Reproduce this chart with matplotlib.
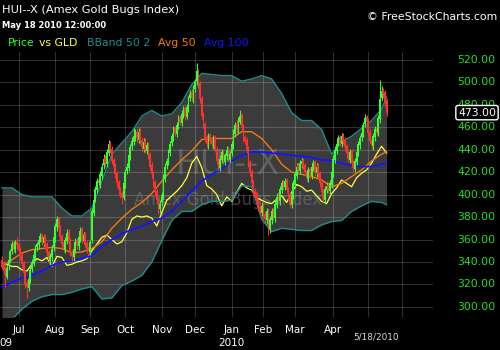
import matplotlib
matplotlib.use("Agg")
import matplotlib.pyplot as plt
from matplotlib import transforms

# Daily candles, mid-June 2009 .. May 18 2010 (trading-day index)
opens = [
    342, 339, 333, 327, 336, 343, 350, 357, 351, 358,
    356, 351, 346, 339, 331, 321, 317, 324, 334, 339,
    345, 353, 355, 361, 364, 357, 363, 356, 349, 341,
    344, 353, 361, 371, 379, 371, 363, 357, 351, 359,
    367, 359, 349, 344, 351, 359, 354, 361, 369, 359,
    365, 357, 353, 349, 360, 384, 396, 404, 413, 409,
    417, 426, 433, 427, 437, 446, 441, 431, 426, 419,
    411, 405, 401, 397, 409, 421, 424, 434, 443, 447,
    451, 456, 449, 457, 449, 441, 448, 439, 445, 436,
    426, 419, 411, 403, 396, 387, 393, 399, 414, 426,
    429, 437, 446, 451, 459, 454, 461, 469, 464, 471,
    477, 469, 477, 486, 491, 485, 494, 501, 511, 499,
    486, 471, 463, 451, 444, 453, 449, 444, 451, 441,
    431, 424, 431, 439, 429, 434, 441, 431, 437, 444,
    454, 463, 457, 465, 471, 461, 451, 449, 441, 429,
    421, 411, 403, 401, 393, 389, 384, 391, 383, 377,
    386, 369, 377, 386, 379, 391, 399, 394, 404, 411,
    407, 413, 405, 399, 391, 399, 409, 417, 426, 421,
    427, 431, 426, 421, 414, 423, 417, 424, 429, 419,
    426, 419, 411, 403, 395, 404, 409, 403, 409, 419,
    431, 439, 446, 451, 445, 453, 449, 443, 437, 431,
    439, 429, 423, 429, 437, 444, 451, 454, 463, 469,
    466, 456, 449, 443, 451, 459, 455, 467, 486, 493,
    491, 483,
]
highs = [
    345, 341, 336, 338, 345, 352, 359, 360, 360, 362,
    358, 353, 348, 341, 333, 324, 327, 336, 343, 348,
    355, 358, 363, 366, 366, 364, 365, 358, 351, 348,
    355, 365, 375, 381, 380, 373, 365, 359, 362, 369,
    369, 361, 351, 355, 361, 361, 365, 371, 371, 367,
    367, 359, 355, 360, 388, 398, 408, 415, 416, 421,
    428, 436, 435, 441, 449, 448, 443, 433, 428, 421,
    413, 407, 403, 413, 423, 428, 438, 445, 451, 459,
    458, 458, 459, 459, 451, 450, 450, 447, 447, 438,
    429, 421, 413, 405, 398, 395, 402, 418, 428, 433,
    441, 448, 455, 461, 461, 465, 471, 471, 475, 479,
    479, 481, 488, 493, 494, 498, 503, 517, 512, 501,
    488, 474, 465, 453, 455, 455, 451, 453, 453, 443,
    433, 435, 441, 441, 437, 443, 443, 439, 448, 458,
    465, 466, 469, 475, 473, 463, 453, 451, 443, 431,
    423, 413, 406, 403, 395, 391, 393, 393, 385, 388,
    388, 381, 388, 388, 395, 401, 401, 408, 413, 413,
    415, 415, 407, 401, 403, 413, 421, 428, 428, 431,
    433, 433, 428, 423, 425, 425, 428, 431, 431, 428,
    428, 421, 413, 405, 408, 411, 411, 413, 423, 435,
    443, 448, 453, 453, 455, 455, 451, 445, 439, 441,
    441, 431, 433, 441, 448, 453, 458, 465, 472, 471,
    468, 458, 451, 455, 461, 461, 471, 502, 497, 495,
    493, 486,
]
lows = [
    334, 329, 318, 325, 333, 340, 347, 349, 348, 352,
    347, 342, 335, 327, 317, 308, 314, 321, 331, 336,
    342, 350, 352, 358, 355, 354, 352, 345, 339, 338,
    341, 350, 358, 368, 367, 359, 353, 349, 348, 356,
    355, 345, 341, 341, 348, 352, 351, 358, 357, 356,
    353, 348, 346, 346, 357, 381, 393, 401, 406, 406,
    414, 423, 425, 425, 434, 437, 427, 422, 415, 407,
    401, 397, 392, 395, 406, 418, 421, 431, 440, 444,
    448, 447, 446, 445, 439, 438, 437, 436, 432, 422,
    415, 407, 399, 392, 383, 384, 390, 396, 411, 423,
    426, 434, 443, 448, 452, 451, 458, 462, 461, 468,
    466, 467, 474, 483, 483, 482, 491, 498, 495, 482,
    467, 459, 447, 442, 441, 445, 442, 441, 438, 427,
    422, 421, 428, 427, 426, 431, 429, 428, 434, 441,
    451, 455, 455, 463, 457, 447, 445, 437, 425, 417,
    407, 399, 397, 389, 385, 382, 381, 379, 375, 374,
    364, 366, 374, 377, 376, 388, 392, 391, 401, 405,
    404, 401, 395, 389, 388, 396, 406, 414, 419, 418,
    424, 422, 417, 412, 411, 415, 414, 421, 417, 416,
    415, 407, 399, 393, 392, 401, 401, 400, 406, 416,
    428, 436, 443, 443, 442, 445, 439, 433, 429, 428,
    425, 421, 420, 426, 434, 441, 448, 451, 460, 462,
    452, 445, 441, 440, 448, 453, 452, 464, 483, 486,
    479, 470,
]
closes = [
    338, 332, 328, 335, 342, 350, 356, 352, 358, 355,
    350, 345, 338, 330, 320, 318, 325, 333, 340, 346,
    352, 356, 360, 363, 358, 362, 355, 348, 342, 345,
    352, 362, 372, 378, 370, 362, 356, 352, 360, 366,
    358, 348, 345, 352, 358, 355, 362, 368, 360, 364,
    356, 352, 350, 358, 385, 395, 405, 412, 410, 418,
    425, 432, 428, 438, 445, 440, 430, 425, 418, 410,
    404, 400, 398, 410, 420, 425, 435, 442, 448, 452,
    455, 450, 456, 448, 442, 447, 440, 444, 435, 425,
    418, 410, 402, 395, 388, 392, 400, 415, 425, 430,
    438, 445, 452, 458, 455, 462, 468, 465, 472, 476,
    470, 478, 485, 490, 486, 495, 500, 510, 498, 485,
    470, 462, 450, 445, 452, 448, 445, 450, 440, 430,
    425, 432, 438, 430, 435, 440, 432, 436, 445, 455,
    462, 458, 466, 470, 460, 450, 448, 440, 428, 420,
    410, 402, 400, 392, 388, 385, 390, 382, 378, 385,
    370, 378, 385, 380, 392, 398, 395, 405, 410, 408,
    412, 404, 398, 392, 400, 410, 418, 425, 422, 428,
    430, 425, 420, 415, 422, 418, 425, 428, 420, 425,
    418, 410, 402, 396, 405, 408, 404, 410, 420, 432,
    440, 445, 450, 446, 452, 448, 442, 436, 432, 438,
    428, 424, 430, 438, 445, 450, 455, 462, 468, 465,
    455, 448, 444, 452, 458, 456, 468, 485, 492, 490,
    482, 473,
]

# Indicator lines every 6 trading days
line_idx = list(range(0, 229, 6)) + [231]
bband_upper = [406, 406, 400, 398, 398, 398, 388, 381, 381, 388,
               412, 436, 446, 456, 470, 475, 470, 472, 482, 498,
               508, 507, 506, 506, 501, 503, 506, 503, 490, 473,
               466, 466, 458, 436, 447, 452, 459, 466, 476, 487]
bband_lower = [285, 289, 298, 305, 309, 311, 311, 313, 316, 318,
               307, 308, 319, 323, 328, 340, 359, 377, 385, 385,
               391, 394, 394, 395, 408, 407, 378, 367, 370, 369,
               368, 368, 373, 376, 377, 385, 390, 394, 393, 391]
avg50 = [336, 342, 348, 351, 352, 353, 352, 348, 349, 352,
         358, 370, 379, 387, 393, 401, 412, 422, 431, 439,
         449, 450, 450, 450, 456, 456, 450, 440, 427, 420,
         418, 416, 413, 407, 410, 416, 422, 430, 436, 438]
avg100 = [318, 322, 326, 328, 332, 337, 340, 341, 343, 346,
          354, 360, 365, 369, 372, 376, 379, 385, 394, 403,
          412, 418, 423, 430, 435, 438, 438, 437, 436, 435,
          434, 433, 431, 430, 428, 426, 425, 425, 427, 428]

# Price vs GLD comparison line, every 3 trading days
gld_idx = list(range(0, 229, 3)) + [231]
price_vs_gld = [337, 338, 336, 336, 333, 332, 338, 343, 341, 344,
                336, 345, 344, 337, 338, 340, 341, 343, 350, 356,
                362, 364, 360, 356, 358, 366, 378, 381, 380, 381,
                379, 372, 384, 395, 399, 403, 408, 415, 428, 434,
                424, 408, 405, 400, 390, 398, 394, 402, 410, 406,
                404, 397, 395, 393, 392, 396, 399, 393, 402, 409,
                407, 403, 404, 399, 394, 392, 401, 406, 413, 410,
                407, 415, 419, 422, 428, 436, 443, 437]

month_pos = [10, 32, 53, 74, 96, 116, 138, 157, 176, 199, 220, 240]
month_labels = ["Jul", "Aug", "Sep", "Oct", "Nov", "Dec", "Jan", "Feb", "Mar", "Apr"]
price_ticks = [300, 320, 340, 360, 380, 400, 420, 440, 460, 480, 500, 520]
last_price = 473.00

GREEN = "#33ff33"
RED = "#ff3030"
TEAL = "#1f8c8c"
ORANGE = "#f07a10"
BLUE = "#1414ff"
YELLOW = "#ffff40"

fig = plt.figure(figsize=(5, 3.5), dpi=100, facecolor="black")
ax = fig.add_axes([0, 1 - 317 / 350, 433 / 500, (317 - 52) / 350])
ax.set_facecolor("black")
ax.set_xlim(-1.2, 258.9)
ax.set_ylim(291, 527)
for s in ax.spines.values():
    s.set_visible(False)
ax.set_xticks([])
ax.set_yticks([])

# Bollinger band area
ax.fill_between(line_idx, bband_lower, bband_upper, color="#3b3b3b", lw=0, zorder=1)

# grid
for p in price_ticks:
    ax.axhline(p, color="white", alpha=0.18, lw=0.8, zorder=1.5)
for m in month_pos:
    ax.axvline(m, color="white", alpha=0.18, lw=0.8, zorder=1.5)

# watermark
ax.text(0.527, 0.574, "HUI--X", transform=ax.transAxes, color="#8a8a8a", alpha=0.45,
        fontsize=24, ha="center", va="center", zorder=1.6)
ax.text(0.527, 0.44, "Amex Gold Bugs Index", transform=ax.transAxes, color="#8a8a8a",
        alpha=0.45, fontsize=12, ha="center", va="center", zorder=1.6)

# indicator lines
ax.plot(gld_idx, price_vs_gld, color=YELLOW, lw=0.9, zorder=2)
ax.plot(line_idx, avg50, color=ORANGE, lw=1.0, zorder=2)
ax.plot(line_idx, avg100, color=BLUE, lw=1.3, zorder=2)
ax.plot(line_idx, bband_upper, color=TEAL, lw=1.0, zorder=2.5)
ax.plot(line_idx, bband_lower, color=TEAL, lw=1.0, zorder=2.5)

# candles
idx = list(range(len(closes)))
colors = [GREEN if c >= o else RED for o, c in zip(opens, closes)]
ax.vlines(idx, lows, highs, colors=colors, lw=0.8, zorder=3)
bodies = [max(abs(c - o), 0.8) for o, c in zip(opens, closes)]
bottoms = [min(o, c) for o, c in zip(opens, closes)]
ax.bar(idx, bodies, bottom=bottoms, width=1.0, color=colors, lw=0, zorder=3)

# right price axis
ty = transforms.blended_transform_factory(fig.transFigure, ax.transData)
for p in price_ticks:
    ax.text(457 / 500, p, f"{p:.2f}", transform=ty, color="#22e022",
            fontsize=7.8, ha="left", va="center", clip_on=False)
ax.text(458 / 500, last_price, f"{last_price:.2f}", transform=ty, color="white",
        fontsize=7.8, ha="left", va="center", clip_on=False, zorder=5,
        bbox=dict(boxstyle="round,pad=0.2", fc="black", ec="white", lw=1))

# bottom date axis
tx = transforms.blended_transform_factory(ax.transData, fig.transFigure)
for m, lab in zip(month_pos, month_labels):
    ax.text(m, 1 - 330 / 350, lab, transform=tx, color="white", fontsize=7.5,
            ha="center", va="center", clip_on=False)
fig.text(13 / 500, 1 - 343 / 350, "09", color="white", fontsize=7.5, ha="right", va="center")
ax.text(138, 1 - 343 / 350, "2010", transform=tx, color="white", fontsize=7.5,
        ha="center", va="center", clip_on=False)
fig.text(376 / 500, 1 - 337 / 350, "5/18/2010", color="#d8d8d8", fontsize=6.4,
         ha="center", va="center")

# header
fig.text(2 / 500, 1 - 10 / 350, "HUI--X (Amex Gold Bugs Index)", color="white",
         fontsize=8.2, ha="left", va="center")
fig.text(2 / 500, 1 - 25 / 350, "May 18 2010 12:00:00", color="white",
         fontsize=6, fontweight="bold", ha="left", va="center")
fig.text(497 / 500, 1 - 17 / 350, "\u00a9 FreeStockCharts.com", color="white",
         fontsize=7.8, ha="right", va="center")
legend_items = [(8, "Price", GREEN), (39, "vs GLD", YELLOW), (87, "BBand 50 2", TEAL),
                (158, "Avg 50", ORANGE), (204, "Avg 100", BLUE)]
for x, t, c in legend_items:
    fig.text(x / 500, 1 - 43 / 350, t, color=c, fontsize=7.8, ha="left", va="center")

fig.savefig("out.png", dpi=100, facecolor="black")
